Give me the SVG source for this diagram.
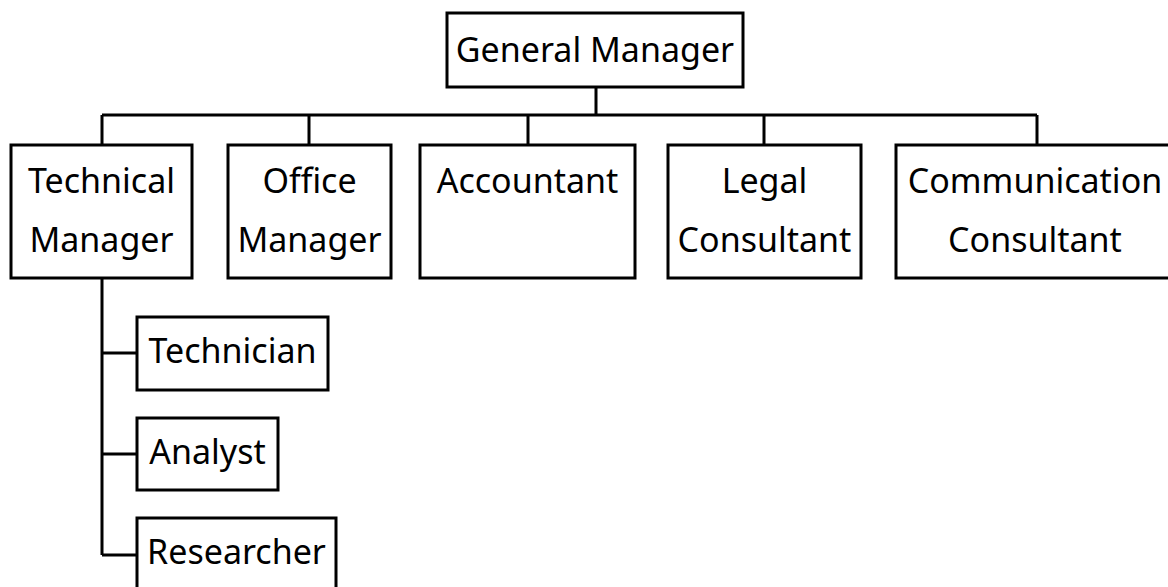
<svg xmlns="http://www.w3.org/2000/svg" width="1168" height="587" viewBox="0 0 1168 587">
<style>
.box{fill:#fff;stroke:#000;stroke-width:3}
.ln{fill:none;stroke:#000;stroke-width:3}
text{font-family:"Noto Sans","DejaVu Sans",sans-serif;font-size:34px;fill:#000;text-anchor:middle}
</style>
<rect width="1168" height="587" fill="#fff"/>
<g id="connectors">
<path class="ln" d="M596 87V115M102 115H1037M102 115V145M309 115V145M528 115V145M764 115V145M1037 115V145"/>
<path class="ln" d="M102 278V555M102 353H137M102 454H137M102 555H137"/>
</g>
<g id="general-manager"><rect class="box" x="447" y="13" width="296" height="74"/><text x="595" y="62">General Manager</text></g>
<g id="technical-manager"><rect class="box" x="11" y="145" width="181" height="133"/><text x="101.5" y="193">Technical</text><text x="101.5" y="252">Manager</text></g>
<g id="office-manager"><rect class="box" x="228" y="145" width="163" height="133"/><text x="309.5" y="193">Office</text><text x="309.5" y="252">Manager</text></g>
<g id="accountant"><rect class="box" x="420" y="145" width="215" height="133"/><text x="527.5" y="193">Accountant</text></g>
<g id="legal-consultant"><rect class="box" x="668" y="145" width="193" height="133"/><text x="764.5" y="193">Legal</text><text x="764.5" y="252">Consultant</text></g>
<g id="communication-consultant"><rect class="box" x="896" y="145" width="290" height="133"/><text x="1035" y="193">Communication</text><text x="1035" y="252">Consultant</text></g>
<g id="technician"><rect class="box" x="137" y="317" width="191" height="73"/><text x="232.5" y="363">Technician</text></g>
<g id="analyst"><rect class="box" x="137" y="418" width="141" height="72"/><text x="207.5" y="464">Analyst</text></g>
<g id="researcher"><rect class="box" x="137" y="518" width="199" height="80"/><text x="236.5" y="564">Researcher</text></g>
</svg>
